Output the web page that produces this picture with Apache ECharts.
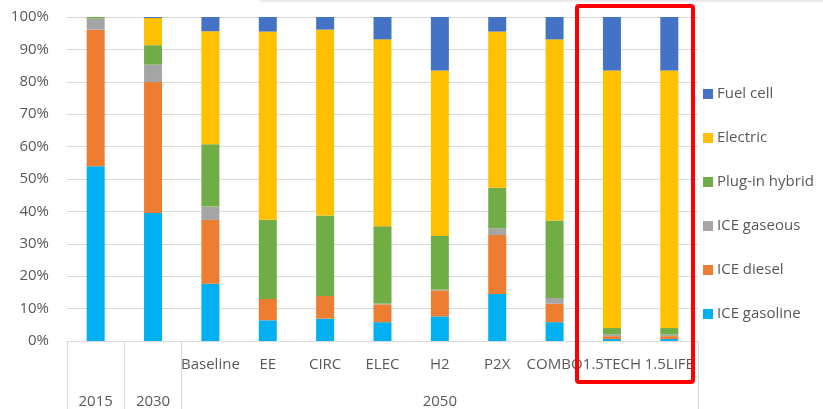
<!DOCTYPE html>
<html>
<head>
<meta charset="utf-8">
<script src="https://cdn.jsdelivr.net/npm/echarts@6/dist/echarts.min.js"></script>
<style>
html,body{margin:0;padding:0;background:#fff;}
#chart{width:823px;height:409px;}
</style>
</head>
<body>
<div id="chart"></div>
<script>
var categories = ['2015','2030','Baseline','EE','CIRC','ELEC','H2','P2X','COMBO','1.5TECH','1.5LIFE'];
var scenarioLabels = ['','','Baseline','EE','CIRC','ELEC','H2','P2X','COMBO','1.5TECH','1.5LIFE'];
var yearLabels = ['2015','2030','','','','','2050','','','',''];

var iceGasoline  = [53.9, 39.5, 17.7, 6.4, 6.9, 5.8, 7.6, 14.5, 5.8, 0.6, 0.6];
var iceDiesel    = [42.2, 40.4, 19.7, 6.6, 7.0, 5.5, 8.0, 18.2, 5.7, 0.9, 0.9];
var iceGaseous   = [3.4, 5.4, 4.1, 0.0, 0.0, 0.3, 0.2, 2.1, 1.8, 0.5, 0.5];
var plugInHybrid = [0.5, 6.0, 19.2, 24.4, 24.8, 23.8, 16.6, 12.5, 23.9, 2.0, 2.0];
var electric     = [0.0, 8.4, 34.9, 58.1, 57.4, 57.7, 51.1, 48.2, 55.9, 79.5, 79.5];
var fuelCell     = [0.0, 0.3, 4.4, 4.5, 3.9, 6.9, 16.5, 4.5, 6.9, 16.5, 16.5];

var seriesNames = ['ICE gasoline','ICE diesel','ICE gaseous','Plug-in hybrid','Electric','Fuel cell'];
var seriesData = [iceGasoline, iceDiesel, iceGaseous, plugInHybrid, electric, fuelCell];
var seriesColors = ['#00B0F0','#ED7D31','#A5A5A5','#70AD47','#FFC000','#4472C4'];

var FONT = 'Open Sans';
var FS = 15;
var TXT = '#595959';

var chart = echarts.init(document.getElementById('chart'), null, {renderer:'canvas'});
var series = seriesNames.map(function(n, i){
  return {
    name: n, type: 'bar', stack: 'total', barWidth: 18,
    data: seriesData[i], itemStyle: {color: seriesColors[i]},
    emphasis: {disabled: true}
  };
});

chart.setOption({
  animation: false,
  backgroundColor: '#ffffff',
  textStyle: {fontFamily: FONT},
  grid: {left: 67, right: 125, top: 17, bottom: 68, containLabel: false},
  legend: {
    orient: 'vertical', left: 703, top: 85, padding: 0,
    itemWidth: 10, itemHeight: 10, itemGap: 26,
    data: ['Fuel cell','Electric','Plug-in hybrid','ICE gaseous','ICE diesel','ICE gasoline'],
    textStyle: {fontFamily: FONT, fontSize: FS, color: TXT, lineHeight: 18, padding: [0,0,0,-1]},
    icon: 'rect', selectedMode: false
  },
  xAxis: [{
    type: 'category', data: categories, position: 'bottom',
    axisLine: {show: true, lineStyle: {color: '#d9d9d9', width: 1}},
    axisTick: {show: true, length: 68, lineStyle: {color: '#d9d9d9'},
      interval: function(i){ return i <= 2 || i >= 11; }},
    axisLabel: {interval: 0, margin: 16, fontFamily: FONT, fontSize: FS, color: TXT,
      formatter: function(v, i){ return scenarioLabels[i]; }},
    splitLine: {show: false}
  },{
    type: 'category', data: categories, position: 'bottom', offset: 46,
    axisLine: {show: false}, axisTick: {show: false},
    axisLabel: {interval: 0, margin: 7, fontFamily: FONT, fontSize: FS, color: TXT,
      formatter: function(v, i){ return yearLabels[i]; }},
    splitLine: {show: false}
  }],
  yAxis: {
    type: 'value', min: 0, max: 100, interval: 10,
    axisLine: {show: false}, axisTick: {show: false},
    axisLabel: {margin: 18, fontFamily: FONT, fontSize: FS, color: TXT,
      formatter: function(v){ return v + '%'; }},
    splitLine: {lineStyle: {color: '#d9d9d9', width: 1}}
  },
  series: series,
  graphic: [{
    type: 'rect', shape: {x: 260, y: 0, width: 563, height: 3},
    style: {fill: new echarts.graphic.LinearGradient(0, 0, 0, 1, [
      {offset: 0, color: '#e4e4e4'}, {offset: 1, color: '#ffffff'}])}, z: 1
  },{
    type: 'rect', shape: {x: 577, y: 6, width: 116, height: 376, r: 2},
    style: {fill: 'none', stroke: '#FF0000', lineWidth: 4}, z: 100
  }]
});
</script>
</body>
</html>
